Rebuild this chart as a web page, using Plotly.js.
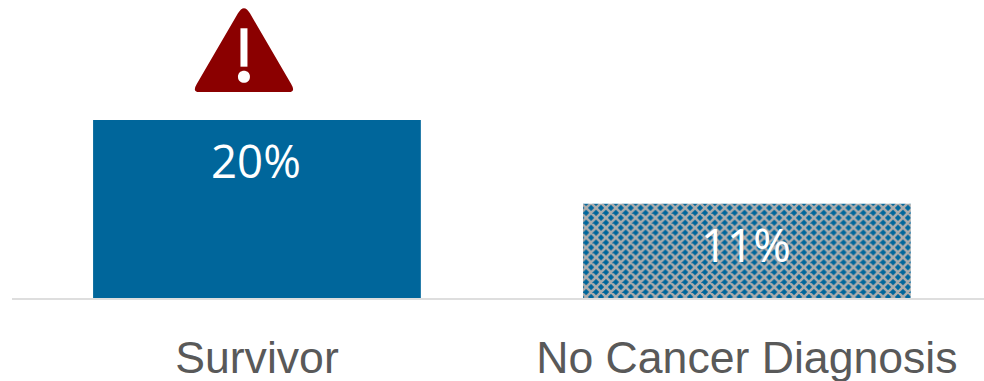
<!DOCTYPE html>
<html><head><meta charset="utf-8">
<script src="https://cdn.plot.ly/plotly-3.0.1.min.js"></script>
<style>html,body{margin:0;padding:0;background:#fff;overflow:hidden}</style></head>
<body><div id="chart" style="width:984px;height:381px"></div>
<script>
const categories = ["Survivor", "No Cancer Diagnosis"];
const values = [20, 10.6];
const valueLabels = ["20%", "11%"];

const BLUE = "#00669B", GREY = "#ADADAD", DARKRED = "#8B0000";

const trace = {
  type: "bar", x: categories, y: values, width: 0.669, hoverinfo: "skip",
  marker: {
    color: BLUE,
    line: {width: 0},
    pattern: {
      shape: ["", "x"], size: 7, solidity: 0.6,
      fgcolor: GREY, bgcolor: BLUE, fgopacity: 1
    }
  }
};

const labels = categories.map((c, i) => ({
  x: c, y: values[i], xref: "x", yref: "y", text: valueLabels[i], showarrow: false,
  yanchor: "top", yshift: -7, xshift: -1,
  font: {family: "Open Sans, sans-serif", size: 45.6, color: "#fff"}
}));

const iconShape = (path, fill) => ({
  type: "path", xref: "x", yref: "y", xsizemode: "pixel", ysizemode: "pixel",
  xanchor: 0, yanchor: values[0], path: path,
  fillcolor: fill, line: {width: 0}, layer: "above"
});

const layout = {
  width: 984, height: 381, margin: {l: 12, r: 0, t: 0, b: 83},
  paper_bgcolor: "#fff", plot_bgcolor: "#fff", showlegend: false,
  xaxis: {
    type: "category", range: [-0.5, 1.484], showgrid: false, zeroline: false,
    showline: true, linecolor: "#DEDEDE", linewidth: 2, ticks: "", ticklabelstandoff: 19,
    tickfont: {family: "Liberation Sans, Arial, sans-serif", size: 44.6, color: "#595959"}
  },
  yaxis: {range: [0, 33.48], visible: false, showgrid: false, zeroline: false},
  annotations: labels,
  shapes: [
    iconShape("M -19 106.7 Q -13 117 -7 106.7 L 34.2 36 Q 39 28 32 28 L -58 28 Q -65 28 -60.2 36 Z", DARKRED),
    iconShape("M -16.5 91.7 L -9.5 91.7 L -9.5 53.3 L -16.5 53.3 Z", "#fff"),
    iconShape("M -19 43.3 C -19 51.3 -7 51.3 -7 43.3 C -7 35.3 -19 35.3 -19 43.3 Z", "#fff")
  ]
};
Plotly.newPlot("chart", [trace], layout, {displayModeBar: false, staticPlot: true});
</script></body></html>
